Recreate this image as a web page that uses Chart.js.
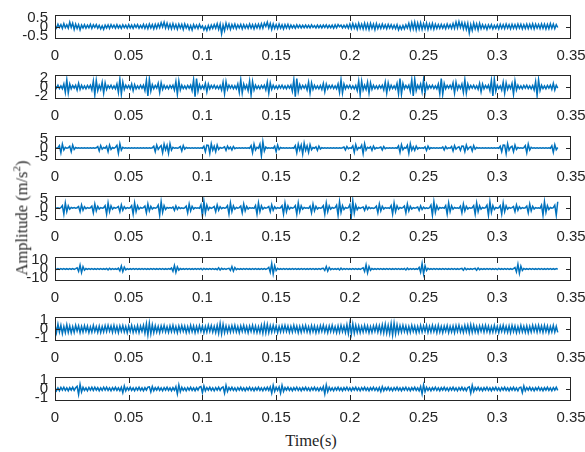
<!DOCTYPE html>
<html>
<head>
<meta charset="utf-8">
<script src="https://cdn.jsdelivr.net/npm/chart.js@4.4.0/dist/chart.umd.min.js"></script>
<style>
  body { margin: 0; background: #fff; width: 585px; height: 452px; overflow: hidden; position: relative; }
  canvas { position: absolute; left: 0; }
  .axis-title { position: absolute; font-family: "Liberation Serif", "Times New Roman", serif; font-size: 16.5px; color: #262626; white-space: nowrap; transform: translate(-50%, -50%); }
  #ytitle { left: 21px; top: 218px; transform: translate(-50%, -50%) rotate(-90deg); }
  #xtitle { left: 311px; top: 441px; }
  sup { font-size: 11px; }
</style>
</head>
<body>
<div id="charts"></div>
<div class="axis-title" id="ytitle">Amplitude (m/s<sup>2</sup>)</div>
<div class="axis-title" id="xtitle">Time(s)</div>
<script>
// sample spacing of the recorded signals (s)
const DT = 0.001;
const xTicks = [0, 0.05, 0.1, 0.15, 0.2, 0.25, 0.3, 0.35];
const xTickLabels = ['0', '0.05', '0.1', '0.15', '0.2', '0.25', '0.3', '0.35'];

// y limits and tick labels per subplot
const yLimits = [0.5, 2, 5, 5, 10, 1, 1];
const yTickLabels = [
    ['0.5', '0', '-0.5'],
    ['2', '0', '-2'],
    ['5', '0', '-5'],
    ['5', '0', '-5'],
    ['10', '0', '-10'],
    ['1', '0', '-1'],
    ['1', '0', '-1']
];

// signal values, one per ms (10 per row)
const signal1 = [
    0.06, -0.04, 0.12, -0.02, 0.1, -0.06, 0.14, -0.03, 0.09, -0.05,
    0.2, -0.02, 0.16, -0.1, 0.12, -0.06, 0.1, -0.12, 0.08, -0.04,
    0.1, -0.05, 0.08, -0.03, 0.11, -0.06, 0.09, -0.02, 0.1, -0.05,
    0.07, -0.08, 0.05, -0.1, 0.08, -0.04, 0.09, -0.06, 0.1, -0.03,
    0.08, -0.05, 0.1, -0.04, 0.07, -0.06, 0.09, -0.03, 0.08, -0.05,
    0.1, -0.04, 0.08, -0.06, 0.09, -0.02, 0.1, -0.05, 0.07, -0.04,
    0.11, -0.06, 0.09, -0.07, 0.12, -0.04, 0.1, -0.08, 0.11, -0.05,
    0.13, -0.03, 0.18, 0.0, 0.2, -0.04, 0.16, -0.06, 0.12, -0.08,
    0.14, -0.06, 0.1, -0.09, 0.12, -0.05, 0.11, -0.1, 0.13, -0.04,
    0.09, -0.1, 0.06, -0.12, 0.1, -0.05, 0.08, -0.07, 0.11, -0.04,
    0.05, -0.12, 0.02, -0.14, 0.06, -0.1, 0.08, -0.06, 0.1, -0.05,
    0.14, -0.1, 0.12, -0.28, 0.08, -0.15, 0.16, -0.06, 0.12, -0.1,
    0.1, -0.05, 0.12, -0.07, 0.09, -0.04, 0.11, -0.08, 0.1, -0.05,
    0.09, -0.06, 0.12, -0.05, 0.1, -0.08, 0.11, -0.04, 0.12, -0.06,
    0.14, -0.05, 0.16, 0.02, 0.2, -0.04, 0.15, -0.1, 0.13, -0.06,
    0.1, -0.07, 0.12, -0.05, 0.09, -0.08, 0.1, -0.04, 0.11, -0.06,
    0.08, -0.04, 0.07, -0.05, 0.09, -0.03, 0.08, -0.04, 0.07, -0.03,
    0.08, -0.03, 0.07, -0.04, 0.09, -0.02, 0.06, -0.04, 0.08, -0.03,
    0.07, -0.04, 0.08, -0.02, 0.09, -0.04, 0.07, -0.03, 0.08, -0.05,
    0.09, -0.03, 0.1, 0.01, 0.08, -0.04, 0.07, -0.03, 0.09, -0.05,
    0.12, -0.07, 0.14, -0.05, 0.11, -0.09, 0.15, -0.06, 0.12, -0.08,
    0.16, -0.08, 0.13, -0.1, 0.15, -0.06, 0.12, -0.11, 0.14, -0.07,
    0.1, -0.06, 0.12, -0.05, 0.09, -0.07, 0.11, -0.04, 0.1, -0.06,
    0.08, -0.07, 0.1, -0.12, 0.04, -0.1, 0.06, -0.08, 0.09, -0.05,
    0.15, -0.1, 0.18, -0.08, 0.2, -0.12, 0.16, -0.09, 0.17, -0.1,
    0.14, -0.08, 0.16, -0.1, 0.13, -0.07, 0.15, -0.09, 0.12, -0.06,
    0.1, -0.06, 0.11, -0.05, 0.09, -0.07, 0.12, -0.04, 0.1, -0.06,
    0.14, -0.06, 0.2, -0.04, 0.22, -0.02, 0.18, -0.08, 0.16, -0.1,
    0.15, -0.25, 0.1, -0.14, 0.16, -0.08, 0.13, -0.12, 0.15, -0.07,
    0.1, -0.06, 0.08, -0.1, 0.09, -0.05, 0.1, -0.08, 0.07, -0.06,
    0.09, -0.08, 0.11, -0.06, 0.1, -0.07, 0.12, -0.05, 0.1, -0.08,
    0.11, -0.06, 0.1, -0.07, 0.12, -0.05, 0.11, -0.08, 0.1, -0.06,
    0.12, -0.07, 0.11, -0.06, 0.13, -0.08, 0.12, -0.05, 0.11, -0.07,
    0.13, -0.06, 0.12, -0.08, 0.11, -0.07, 0.14, -0.06, 0.12, -0.07,
    0.1, -0.02
];
const signal2 = [
    0.25, -0.2, 0.3, -0.25, 0.2, -0.3, 0.5, -0.9, 1.2, -1.0,
    0.5, -0.3, 0.25, -0.2, 0.3, -0.5, 0.6, -0.4, 0.3, -0.25,
    0.2, -0.3, 0.25, -0.2, 0.3, -0.5, 1.0, -1.3, 1.1, -0.6,
    0.3, -0.4, 0.8, -1.0, 0.7, -0.4, 0.25, -0.2, 0.3, -0.25,
    0.2, -0.3, 0.5, -0.9, 1.3, -1.2, 0.8, -0.4, 0.3, -0.2,
    0.25, -0.3, 0.5, -0.6, 0.4, -0.3, 0.2, -0.25, 0.3, -0.2,
    0.3, -0.6, 1.1, -1.5, 1.3, -0.7, 0.4, -0.3, 0.25, -0.2,
    0.6, -0.9, 0.7, -0.4, 0.3, -0.25, 0.2, -0.3, 0.25, -0.2,
    0.3, -0.5, 0.9, -1.2, 1.0, -0.5, 0.3, -0.25, 0.2, -0.3,
    0.25, -0.2, 0.3, -0.6, 1.2, -1.6, 1.4, -0.7, 0.4, -0.3,
    0.25, -0.3, 0.6, -0.8, 0.5, -0.3, 0.25, -0.2, 0.3, -0.25,
    0.2, -0.3, 0.25, -0.5, 0.8, -1.1, 0.9, -0.4, 0.3, -0.2,
    0.25, -0.3, 0.2, -0.3, 0.5, -0.9, 1.2, -1.0, 0.5, -0.3,
    0.3, -0.6, 1.0, -1.3, 0.9, -0.5, 0.3, -0.25, 0.2, -0.3,
    0.25, -0.2, 0.3, -0.5, 0.8, -1.0, 0.7, -0.4, 0.3, -0.25,
    0.2, -0.3, 0.25, -0.2, 0.3, -0.25, 0.2, -0.3, 0.25, -0.2,
    0.3, -0.7, 1.2, -1.6, 1.4, -0.8, 0.4, -0.3, 0.25, -0.2,
    0.3, -0.5, 0.8, -1.0, 0.7, -0.4, 0.3, -0.25, 0.2, -0.3,
    0.25, -0.4, 0.6, -0.8, 0.5, -0.3, 0.25, -0.2, 0.3, -0.25,
    0.2, -0.3, 0.5, -0.9, 1.2, -1.0, 0.5, -0.3, 0.25, -0.2,
    0.3, -0.25, 0.2, -0.3, 0.25, -0.6, 1.0, -1.3, 1.0, -0.5,
    0.3, -0.4, 0.8, -1.0, 0.7, -0.4, 0.3, -0.25, 0.2, -0.3,
    0.25, -0.2, 0.3, -0.5, 0.8, -1.0, 0.7, -0.4, 0.3, -0.25,
    0.2, -0.3, 0.6, -1.1, 1.4, -1.2, 0.6, -0.3, 0.25, -0.2,
    0.3, -0.7, 1.2, -1.5, 1.3, -0.6, 0.3, -0.25, 0.5, -0.8,
    1.2, -1.0, 0.5, -0.3, 0.25, -0.2, 0.3, -0.25, 0.2, -0.3,
    0.5, -1.1, 1.4, -1.2, 0.6, -0.3, 0.25, -0.2, 0.3, -0.25,
    0.7, -1.0, 0.8, -0.4, 0.3, -0.25, 0.5, -0.9, 1.2, -1.0,
    0.5, -0.3, 0.25, -0.2, 0.3, -0.25, 0.2, -0.4, 0.6, -0.8,
    0.5, -0.3, 0.25, -0.2, 0.3, -0.6, 1.1, -1.5, 1.3, -0.7,
    0.3, -0.25, 0.2, -0.5, 0.8, -1.0, 0.7, -0.4, 0.3, -0.25,
    0.6, -1.2, 1.0, -0.5, 0.3, -0.25, 0.2, -0.3, 0.25, -0.2,
    0.3, -0.25, 0.2, -0.3, 0.25, -0.5, 0.9, -1.4, 1.2, -0.6,
    0.3, -0.25, 0.2, -0.3, 0.25, -0.2, 0.3, -0.4, 0.6, -0.5,
    0.3, -0.2
];
const signal3 = [
    0.1, -0.12, 0.15, 1.0, -2.0, 1.6, -0.8, 0.3, -0.12, 0.1,
    0.75, -1.5, 1.2, -0.6, 0.2, -0.1, 0.12, -0.1, 0.1, -0.12,
    0.1, -0.12, 0.1, -0.1, 0.12, -0.1, 0.1, -0.12, 0.1, 0.6,
    -1.2, 1.0, -0.5, 0.2, -0.1, 0.75, -1.5, 1.2, -0.6, 0.2,
    -0.12, 0.3, 1.1, -2.2, 1.8, -0.9, 0.3, -0.12, 0.1, -0.1,
    0.12, -0.1, 0.1, -0.12, 0.1, -0.1, 0.12, -0.1, 0.1, -0.12,
    0.1, -0.1, 0.12, -0.1, 0.1, -0.12, 0.1, 0.75, -1.5, 1.2,
    -0.6, 0.3, 1.0, -2.0, 1.6, -0.8, 1.1, -2.2, 1.8, -0.9,
    0.3, -0.12, 0.1, -0.1, 0.12, 0.6, -1.2, 1.0, -0.5, 0.2,
    -0.1, 0.12, -0.1, 0.1, -0.12, 0.1, -0.1, 0.12, -0.1, 0.1,
    -0.12, 0.75, -1.5, 1.2, 1.1, -2.2, 1.8, -0.9, 0.75, -1.5,
    1.2, -0.6, 0.2, -0.1, 0.12, 0.5, -1.0, 0.8, -0.4, 0.4,
    -0.8, 0.6, -0.3, 0.12, -0.1, 0.1, -0.12, 0.1, -0.1, 0.12,
    -0.1, 0.1, -0.12, 1.0, -2.0, 1.6, -0.8, 0.3, -0.12, 1.6,
    -3.2, 2.6, -1.3, 0.4, -0.12, 0.1, -0.1, 0.12, -0.1, 0.75,
    -1.5, 1.2, -0.6, 0.2, -0.1, 0.12, -0.1, 0.1, -0.12, 0.1,
    -0.1, 0.12, -0.1, 1.0, -2.0, 1.6, -0.8, 1.25, -2.5, 2.0,
    -1.0, 0.9, -1.8, 1.4, -0.7, 0.2, -0.1, 0.5, -1.0, 0.8,
    -0.4, 0.12, -0.1, 0.1, -0.12, 0.1, -0.1, 0.12, -0.1, 0.1,
    -0.12, 0.1, -0.1, 0.12, -0.1, 0.1, 0.4, -0.8, 0.6, -0.3,
    0.12, -0.1, 0.9, -1.8, 1.4, -0.7, 0.2, -0.1, 1.15, -2.3,
    1.8, -0.9, 0.3, -0.12, 0.5, -1.0, 0.8, -0.4, 0.12, -0.1,
    0.1, 0.4, -0.8, 0.6, -0.3, 0.12, -0.1, 0.1, -0.12, 0.1,
    -0.1, 0.12, -0.1, 0.9, -1.8, 1.4, -0.7, 0.2, -0.1, 1.1,
    -2.2, 1.8, -0.9, 0.5, -1.0, 0.8, -0.4, 0.12, -0.1, 0.1,
    -0.12, 0.5, -1.0, 0.8, -0.4, 0.12, -0.1, 0.1, -0.12, 0.1,
    -0.1, 0.12, -0.1, 0.4, -0.8, 0.6, -0.3, 0.12, -0.1, 0.6,
    -1.2, 1.0, -0.5, 0.2, 0.5, -1.0, 0.8, 0.75, -1.5, 1.2,
    -0.6, 0.2, 0.6, -1.2, 1.0, -0.5, 0.2, -0.1, 0.12, -0.1,
    0.1, -0.12, 0.1, -0.1, 0.12, -0.1, 0.1, -0.12, 0.1, -0.1,
    0.12, -0.1, 0.75, -1.5, 1.2, 1.15, -2.3, 1.8, -0.9, 0.3,
    0.75, -1.5, 1.2, -0.6, 0.2, -0.1, 0.12, -0.1, 0.1, 1.0,
    -2.0, 1.6, -0.8, 0.3, -0.12, 0.1, -0.1, 0.12, -0.1, 0.1,
    -0.12, 0.1, -0.1, 0.12, -0.1, 0.1, -0.12, 0.9, -1.8, 1.4,
    -0.7, 0.2
];
const signal4 = [
    0.15, -0.12, 0.1, -0.15, 0.12, 1.0, -2.5, 2.1, -1.5, 0.9,
    -0.5, 0.2, -0.12, 0.15, -0.1, 0.12, 0.6, -1.5, 1.3, -0.9,
    0.5, -0.3, 0.15, -0.12, 0.1, 0.8, -2.0, 1.7, -1.2, 0.7,
    -0.4, 0.15, -0.12, 0.1, 1.0, -2.5, 2.1, -1.5, 0.9, -0.5,
    0.2, -0.12, 0.15, 0.6, -1.5, 1.3, -0.9, 0.5, -0.3, 0.15,
    -0.12, 0.1, 1.0, -2.5, 2.1, -1.5, 0.9, -0.5, 0.2, -0.12,
    0.15, 0.8, -2.0, 1.7, -1.2, 0.7, -0.4, 0.15, -0.12, 0.1,
    1.2, -3.0, 2.6, -1.8, 1.0, -0.6, 0.2, -0.12, 0.15, -0.1,
    0.4, -1.0, 0.85, -0.6, 0.35, -0.2, 0.12, -0.15, 0.1, 0.8,
    -2.0, 1.7, -1.2, 0.7, -0.4, 0.15, -0.12, 0.1, -0.15, 1.3,
    -3.3, 2.8, -2.0, 1.2, -0.7, 0.3, -0.12, 0.15, 0.6, -1.5,
    1.3, -0.9, 0.5, -0.3, 0.15, -0.12, 0.1, 1.0, -2.5, 2.1,
    -1.5, 0.9, -0.5, 0.2, -0.12, 0.15, 0.8, -2.0, 1.7, -1.2,
    0.7, -0.4, 0.15, -0.12, 0.1, -0.15, 1.0, -2.5, 2.1, -1.5,
    0.9, -0.5, 0.2, -0.12, 0.15, 0.6, -1.5, 1.3, -0.9, 0.5,
    -0.3, 0.15, -0.12, 0.1, 1.0, -2.5, 2.1, -1.5, 0.9, -0.5,
    0.2, -0.12, 0.15, 1.0, -2.5, 2.1, -1.5, 0.9, -0.5, 0.2,
    -0.12, 0.1, -0.15, 0.8, -2.0, 1.7, -1.2, 0.7, -0.4, 0.15,
    -0.12, 0.1, 1.0, -2.5, 2.1, -1.5, 0.9, -0.5, 0.2, -0.12,
    0.15, 1.2, -3.0, 2.6, -1.8, 1.0, -0.6, 0.2, -0.12, 0.1,
    1.4, -3.5, 3.0, -2.1, 1.2, -0.7, 0.3, -0.12, 0.15, 0.4,
    -1.0, 0.85, -0.6, 0.35, -0.2, 0.12, -0.15, 0.1, 0.8, -2.0,
    1.7, -1.2, 0.7, -0.4, 0.15, -0.12, 0.1, -0.15, 1.0, -2.5,
    2.1, -1.5, 0.9, -0.5, 0.2, -0.12, 0.15, 0.8, -2.0, 1.7,
    -1.2, 0.7, -0.4, 0.15, -0.12, 0.1, 0.4, -1.0, 0.85, -0.6,
    0.35, -0.2, 0.12, -0.15, 0.1, 1.2, -3.0, 2.6, -1.8, 1.0,
    -0.6, 0.2, -0.12, 0.15, -0.1, 1.0, -2.5, 2.1, -1.5, 0.9,
    -0.5, 0.2, -0.12, 0.1, -0.15, 0.8, -2.0, 1.7, -1.2, 0.7,
    -0.4, 0.15, -0.12, 0.1, 1.0, -2.5, 2.1, -1.5, 0.9, -0.5,
    0.2, -0.12, 0.15, 1.2, -3.0, 2.6, -1.8, 1.0, -0.6, 0.2,
    -0.12, 0.1, 1.0, -2.5, 2.1, -1.5, 0.9, -0.5, 0.2, -0.12,
    0.15, 0.6, -1.5, 1.3, -0.9, 0.5, -0.3, 0.15, -0.12, 0.1,
    0.8, -2.0, 1.7, -1.2, 0.7, -0.4, 0.15, -0.12, 0.1, -0.15,
    1.2, -3.0, 2.6, -1.8, 1.0, -0.6, 0.2, -0.12, 0.15, 1.2,
    -3.0, 2.6
];
const signal5 = [
    0.3, -0.35, 0.25, -0.3, 0.35, -0.25, 0.3, -0.35, 0.25, -0.3,
    0.35, -0.25, 0.3, -0.35, 0.25, 1.0, -2.0, 3.3, -3.0, 2.0,
    -1.0, 0.4, -0.3, 0.35, -0.25, 0.3, -0.35, 0.25, -0.3, 0.35,
    -0.25, 0.3, -0.35, 0.25, -0.3, 0.5, -0.7, 0.6, -0.4, 0.3,
    -0.35, 0.25, -0.3, 0.75, -1.5, 2.5, -2.2, 1.5, -0.75, 0.35,
    -0.3, 0.25, -0.35, 0.3, -0.25, 0.35, -0.3, 0.25, -0.35, 0.3,
    -0.25, 0.35, -0.3, 0.25, -0.35, 0.3, -0.25, 0.35, -0.3, 0.25,
    -0.35, 0.3, -0.25, 0.35, -0.3, 0.25, -0.35, 0.3, -0.25, 0.9,
    -1.8, 3.0, -2.7, 1.8, -0.9, 0.4, -0.3, 0.25, -0.35, 0.3,
    -0.25, 0.35, -0.3, 0.25, -0.35, 0.3, -0.25, 0.35, -0.3, 0.45,
    -0.6, 0.45, -0.3, 0.25, -0.35, 0.3, -0.25, 0.35, -0.3, 0.25,
    -0.6, 1.0, -0.9, 0.6, -0.3, 0.35, -0.25, 0.3, 0.6, -1.2,
    2.0, -1.8, 1.2, -0.6, 0.3, -0.35, 0.25, -0.3, 0.35, -0.25,
    0.3, -0.35, 0.25, -0.3, 0.35, -0.25, 0.3, -0.35, 0.25, -0.3,
    0.35, -0.25, 0.3, -0.35, 0.25, 1.35, -2.7, 4.5, -4.0, 2.7,
    -1.35, 0.5, -0.3, 0.25, -0.35, 0.3, -0.25, 0.35, -0.3, 0.25,
    -0.35, 0.3, -0.25, 0.35, -0.3, 0.25, -0.35, 0.3, -0.25, 0.35,
    -0.3, 0.25, -0.35, 0.3, -0.25, 0.35, -0.3, 0.25, -0.35, 0.3,
    -0.25, 0.35, 0.6, -1.2, 2.0, -1.8, 1.2, -0.6, 0.3, -0.35,
    0.25, -0.3, 0.4, -0.8, 0.7, -0.45, 0.3, -0.25, 0.35, -0.3,
    0.25, -0.35, 0.3, -0.25, 0.35, -0.3, 0.25, -0.35, 0.3, 1.05,
    -2.1, 3.5, -3.2, 2.1, -1.05, 0.4, -0.3, 0.25, -0.35, 0.3,
    -0.25, 0.35, -0.3, 0.25, -0.35, 0.3, -0.25, 0.35, -0.3, 0.25,
    -0.35, 0.3, -0.25, 0.35, -0.3, 0.25, -0.35, 0.4, -0.8, 0.7,
    -0.45, 0.3, -0.25, 0.35, -0.3, 0.25, -0.35, 1.35, -2.7, 4.5,
    -4.0, 2.7, -1.35, 0.5, -0.3, 0.25, -0.35, 0.3, -0.25, 0.35,
    -0.3, 0.25, -0.35, 0.3, -0.25, 0.35, -0.3, 0.25, -0.35, 0.3,
    -0.25, 0.35, -0.3, 0.25, -0.35, 0.3, 0.5, -1.0, 0.9, -0.6,
    0.35, -0.3, 0.25, -0.35, 0.3, 0.5, -1.0, 0.9, -0.6, 0.35,
    -0.3, 0.25, -0.35, 0.3, -0.25, 0.35, -0.3, 0.25, -0.35, 0.3,
    -0.45, 0.5, -0.3, 0.25, -0.35, 0.3, -0.25, 0.35, -0.3, 0.25,
    -0.35, 0.3, 1.2, -2.4, 4.0, -3.6, 2.4, -1.2, 0.45, -0.3,
    0.25, -0.35, 0.3, -0.25, 0.35, -0.3, 0.25, -0.35, 0.3, -0.25,
    0.35, -0.3, 0.25, -0.35, 0.3, -0.25, 0.35, -0.3, 0.25, -0.35,
    0.3, -0.25
];
const signal6 = [
    0.35, -0.3, 0.4, -0.25, 0.3, -0.38, 0.22, -0.3, 0.35, -0.28,
    0.25, -0.32, 0.2, -0.28, 0.3, -0.18, 0.26, -0.3, 0.22, -0.25,
    0.28, -0.2, 0.24, -0.3, 0.18, -0.26, 0.3, -0.22, 0.2, -0.28,
    0.24, -0.3, 0.2, -0.25, 0.28, -0.22, 0.3, -0.18, 0.25, -0.27,
    0.3, -0.24, 0.22, -0.3, 0.26, -0.2, 0.28, -0.25, 0.2, -0.3,
    0.26, -0.22, 0.3, -0.28, 0.2, -0.25, 0.28, -0.3, 0.24, -0.2,
    0.3, -0.35, 0.42, -0.5, 0.48, -0.4, 0.35, -0.3, 0.28, -0.25,
    0.22, -0.3, 0.26, -0.2, 0.3, -0.24, 0.2, -0.28, 0.25, -0.22,
    0.3, -0.25, 0.2, -0.3, 0.26, -0.22, 0.28, -0.2, 0.24, -0.3,
    0.2, -0.26, 0.3, -0.22, 0.25, -0.3, 0.22, -0.24, 0.28, -0.2,
    0.25, -0.3, 0.22, -0.26, 0.3, -0.2, 0.28, -0.25, 0.22, -0.3,
    0.3, -0.35, 0.45, -0.4, 0.38, -0.3, 0.26, -0.28, 0.22, -0.25,
    0.28, -0.22, 0.3, -0.25, 0.2, -0.3, 0.26, -0.2, 0.3, -0.24,
    0.22, -0.3, 0.25, -0.2, 0.3, -0.26, 0.24, -0.3, 0.2, -0.28,
    0.3, -0.35, 0.4, -0.32, 0.38, -0.3, 0.28, -0.25, 0.3, -0.22,
    0.26, -0.3, 0.2, -0.25, 0.28, -0.22, 0.3, -0.2, 0.25, -0.28,
    0.22, -0.26, 0.3, -0.2, 0.25, -0.3, 0.22, -0.28, 0.26, -0.2,
    0.3, -0.24, 0.2, -0.3, 0.28, -0.22, 0.25, -0.3, 0.2, -0.26,
    0.28, -0.2, 0.3, -0.25, 0.22, -0.3, 0.26, -0.22, 0.3, -0.24,
    0.2, -0.3, 0.25, -0.28, 0.3, -0.22, 0.24, -0.3, 0.35, -0.38,
    0.45, -0.4, 0.42, -0.35, 0.3, -0.28, 0.25, -0.3, 0.22, -0.26,
    0.3, -0.22, 0.25, -0.3, 0.2, -0.28, 0.26, -0.2, 0.3, -0.25,
    0.28, -0.3, 0.35, -0.32, 0.4, -0.35, 0.3, -0.38, 0.45, -0.5,
    0.48, -0.4, 0.35, -0.3, 0.28, -0.25, 0.3, -0.22, 0.26, -0.3,
    0.22, -0.28, 0.3, -0.2, 0.25, -0.3, 0.22, -0.26, 0.3, -0.24,
    0.26, -0.2, 0.3, -0.28, 0.22, -0.25, 0.3, -0.22, 0.24, -0.3,
    0.3, -0.26, 0.22, -0.3, 0.25, -0.2, 0.28, -0.3, 0.22, -0.25,
    0.25, -0.3, 0.28, -0.22, 0.3, -0.25, 0.2, -0.28, 0.3, -0.22,
    0.3, -0.32, 0.35, -0.28, 0.3, -0.25, 0.22, -0.3, 0.26, -0.2,
    0.28, -0.25, 0.3, -0.22, 0.24, -0.3, 0.2, -0.26, 0.3, -0.24,
    0.22, -0.3, 0.26, -0.2, 0.3, -0.25, 0.22, -0.28, 0.25, -0.3,
    0.3, -0.22, 0.25, -0.3, 0.2, -0.26, 0.3, -0.24, 0.22, -0.28,
    0.26, -0.3, 0.22, -0.25, 0.3, -0.2, 0.28, -0.26, 0.3, -0.22,
    0.25, -0.28, 0.3, -0.22, 0.26, -0.3, 0.2, -0.25, 0.3, -0.26,
    0.22, -0.28
];
const signal7 = [
    0.12, -0.15, 0.1, -0.14, 0.13, -0.1, 0.15, -0.12, 0.1, -0.14,
    0.12, -0.1, 0.14, -0.12, 0.1, 0.22, -0.45, 0.38, -0.25, 0.14,
    -0.12, 0.1, -0.15, 0.13, -0.1, 0.14, -0.12, 0.15, -0.1, 0.12,
    -0.14, 0.1, -0.12, 0.15, -0.1, 0.14, -0.12, 0.1, -0.15, 0.12,
    -0.1, 0.14, -0.12, 0.1, -0.14, 0.15, -0.3, 0.25, -0.16, 0.12,
    -0.1, 0.14, -0.12, 0.1, -0.15, 0.12, -0.1, 0.14, -0.12, 0.1,
    -0.14, 0.12, -0.1, 0.15, 0.18, -0.25, 0.2, -0.14, 0.12, -0.1,
    0.14, -0.12, 0.1, -0.15, 0.12, -0.1, 0.14, -0.12, 0.1, -0.14,
    0.12, -0.1, 0.2, -0.4, 0.34, -0.22, 0.14, -0.12, 0.1, -0.15,
    0.12, -0.1, 0.14, -0.12, 0.1, -0.14, 0.12, -0.1, 0.15, 0.2,
    -0.3, 0.25, -0.15, 0.12, -0.1, 0.14, -0.12, 0.1, -0.15, 0.12,
    -0.1, 0.14, -0.12, 0.1, 0.18, -0.35, 0.3, -0.2, 0.12, -0.1,
    0.14, -0.12, 0.1, -0.15, 0.12, -0.1, 0.14, -0.12, 0.1, -0.14,
    0.12, -0.1, 0.15, -0.12, 0.1, -0.14, 0.12, -0.1, 0.14, -0.12,
    0.1, -0.15, 0.12, -0.1, 0.14, -0.12, 0.18, -0.35, 0.3, -0.2,
    0.14, -0.12, 0.18, -0.35, 0.3, -0.2, 0.12, -0.1, 0.14, -0.12,
    0.1, -0.14, 0.12, -0.1, 0.15, -0.12, 0.1, -0.14, 0.12, -0.1,
    0.14, -0.12, 0.1, -0.15, 0.12, -0.1, 0.14, -0.12, 0.1, -0.14,
    0.12, -0.1, 0.2, -0.4, 0.34, -0.22, 0.14, -0.12, 0.1, -0.15,
    0.12, -0.1, 0.14, -0.12, 0.1, -0.14, 0.12, -0.1, 0.15, -0.12,
    0.1, -0.14, 0.12, -0.1, 0.14, -0.12, 0.1, -0.15, 0.12, -0.1,
    0.14, -0.12, 0.1, -0.14, 0.12, -0.1, 0.15, -0.12, 0.1, -0.14,
    0.12, -0.22, 0.2, -0.14, 0.12, -0.1, 0.14, -0.12, 0.1, -0.15,
    0.12, -0.1, 0.14, -0.12, 0.1, -0.14, 0.12, -0.1, 0.15, -0.12,
    0.1, -0.14, 0.12, -0.1, 0.14, -0.12, 0.1, -0.15, 0.2, -0.4,
    0.34, -0.22, 0.14, -0.12, 0.1, -0.14, 0.12, -0.1, 0.15, -0.12,
    0.1, -0.14, 0.12, -0.1, 0.14, -0.12, 0.1, -0.15, 0.12, -0.1,
    0.14, -0.12, 0.1, -0.15, 0.12, -0.1, 0.14, -0.12, 0.1, -0.14,
    0.12, 0.18, -0.35, 0.3, -0.2, 0.12, -0.1, 0.14, -0.12, 0.1,
    -0.14, 0.12, -0.1, 0.15, -0.12, 0.1, -0.14, 0.12, -0.1, 0.14,
    -0.12, 0.1, -0.15, 0.12, -0.1, 0.14, -0.12, 0.1, -0.14, 0.12,
    -0.1, 0.14, -0.12, 0.1, -0.15, 0.12, 0.15, -0.3, 0.25, -0.16,
    0.12, -0.1, 0.14, -0.12, 0.1, -0.14, 0.12, -0.1, 0.15, -0.12,
    0.1, -0.14, 0.12, -0.1, 0.14, -0.12, 0.1, -0.15, 0.12, -0.1,
    0.14, -0.12
];

const signals = [signal1, signal2, signal3, signal4, signal5, signal6, signal7];
const plotTops = [15, 75, 136, 196, 257, 317, 377];

const AXIS_COLOR = '#262626';
const TICK_FONT = '15px "Liberation Sans", Arial, sans-serif';

// MATLAB style box, inward ticks and y labels
const boxPlugin = {
    id: 'matlabBox',
    afterDatasetsDraw(chart, args, opts) {
        const { ctx, chartArea: a, scales } = chart;
        ctx.save();
        ctx.strokeStyle = AXIS_COLOR;
        ctx.lineWidth = 1;
        ctx.beginPath();
        xTicks.forEach(v => {
            if (v <= 0 || v >= 0.35) return;
            const px = Math.round(scales.x.getPixelForValue(v)) + 0.5;
            ctx.moveTo(px, a.top);
            ctx.lineTo(px, a.top + 6);
            ctx.moveTo(px, a.bottom);
            ctx.lineTo(px, a.bottom - 6);
        });
        const py = Math.round(scales.y.getPixelForValue(0)) + 0.5;
        ctx.moveTo(a.left, py);
        ctx.lineTo(a.left + 5, py);
        ctx.moveTo(a.right, py);
        ctx.lineTo(a.right - 5, py);
        ctx.stroke();
        ctx.strokeRect(a.left + 0.5, a.top + 0.5, a.right - a.left - 1, a.bottom - a.top - 1);

        ctx.fillStyle = AXIS_COLOR;
        ctx.font = TICK_FONT;
        ctx.textAlign = 'right';
        ctx.textBaseline = 'middle';
        const lim = opts.limit;
        const vals = [lim, 0, -lim];
        const shift = [2.5, 0, -3];
        vals.forEach((v, i) => {
            ctx.fillText(opts.labels[i], a.left - 7, scales.y.getPixelForValue(v) + shift[i]);
        });
        ctx.restore();
    }
};

const holder = document.getElementById('charts');

signals.forEach((values, k) => {
    const canvas = document.createElement('canvas');
    canvas.width = 600;
    canvas.height = 60;
    canvas.style.top = (plotTops[k] - 10) + 'px';
    holder.appendChild(canvas);

    new Chart(canvas, {
        type: 'line',
        data: {
            datasets: [{
                data: values.map((v, i) => ({ x: i * DT, y: v })),
                borderColor: '#0072BD',
                borderWidth: 1.5,
                pointRadius: 0,
                tension: 0
            }]
        },
        options: {
            responsive: false,
            animation: false,
            events: [],
            layout: { padding: { top: 10, right: 29, left: 0, bottom: 0 } },
            scales: {
                x: {
                    type: 'linear',
                    min: 0,
                    max: 0.35,
                    grid: { display: false, drawTicks: false },
                    border: { display: false },
                    afterBuildTicks: s => { s.ticks = xTicks.map(v => ({ value: v })); },
                    afterFit: s => { s.height = 26; },
                    ticks: {
                        autoSkip: false,
                        maxRotation: 0,
                        padding: 8,
                        color: AXIS_COLOR,
                        font: { family: '"Liberation Sans", Arial, sans-serif', size: 15 },
                        callback: (v, i) => xTickLabels[i]
                    }
                },
                y: {
                    min: -yLimits[k],
                    max: yLimits[k],
                    grid: { display: false, drawTicks: false },
                    border: { display: false },
                    ticks: { display: false },
                    afterFit: s => { s.width = 55; }
                }
            },
            plugins: {
                legend: { display: false },
                tooltip: { enabled: false },
                matlabBox: { limit: yLimits[k], labels: yTickLabels[k] }
            }
        },
        plugins: [boxPlugin]
    });
});
</script>
</body>
</html>
